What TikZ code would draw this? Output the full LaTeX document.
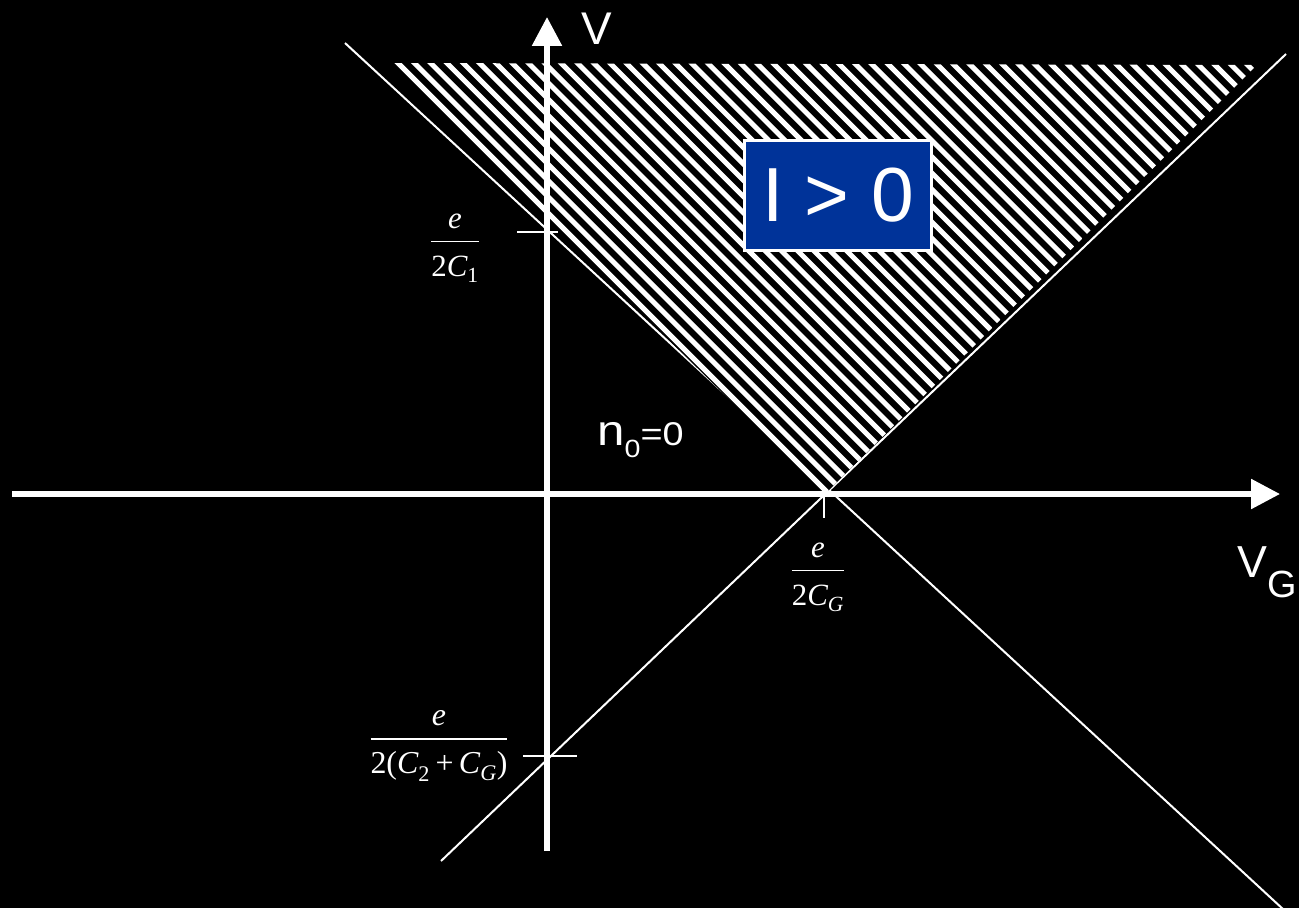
\documentclass[tikz,border=0pt]{standalone}
\usepackage{amsmath}
\usepackage{fontspec}
\setmainfont{Liberation Serif}
\setsansfont{Liberation Sans}
\usetikzlibrary{arrows.meta}
\definecolor{boxblue}{RGB}{0,51,153}
\newcommand{\efrac}[1]{\genfrac{}{}{1.5bp}{0}{\text{\itshape e}\rule[-7.75bp]{0pt}{0pt}}{\rule{0pt}{29.75bp}#1}}
\tikzset{
  axis/.style={white,line width=5.5,-{Triangle[width=29,length=29]}},
  thinline/.style={white,line width=2},
  tickmark/.style={white,line width=2},
  hatchline/.style={white,line width=5},
  lbl/.style={white,inner sep=0pt,font=\sffamily},
  mlbl/.style={white,inner sep=0pt,anchor=base,font=\fontsize{31}{31}\selectfont},
}

\begin{document}
\begin{tikzpicture}[x=1bp,y=-1bp]
\fill[black] (0,0) rectangle (1299,908);
\useasboundingbox (0,0) rectangle (1299,908);
\coordinate (dl) at (345,43);
\coordinate (dr) at (1284,910);
\coordinate (al) at (441,861);
\coordinate (ar) at (1286,54);
\draw[thinline] (dl) -- (dr);
\draw[thinline] (al) -- (ar);
\begin{scope}
\clip (388,63) -- (1257,65) -- (825,494) -- cycle;
\fill[black] (388,63) -- (1257,65) -- (825,494) -- cycle;
\foreach \c in {335,351.3,...,1210}
  \draw[hatchline] (\c-40,-40) -- (\c+560,560);
\end{scope}
\coordinate (vg0) at (12,494);
\coordinate (vg1) at (1280,494);
\coordinate (v0) at (547,851);
\coordinate (v1) at (547,17);
\draw[axis] (vg0) -- (vg1);
\draw[axis] (v0) -- (v1);
\draw[tickmark] (517,232) -- (558,232);
\draw[tickmark] (824,494) -- (824,518);
\draw[tickmark] (523,756) -- (577,756);
\node[lbl,anchor=base,font=\sffamily\fontsize{46}{46}\selectfont] (vlbl) at (597,44) {V};
\node[lbl,anchor=base west] (vglbl) at (1237,577)
  {\fontsize{45}{45}\selectfont V\raisebox{-20bp}{\fontsize{38}{38}\selectfont G}};
\node[lbl,anchor=base west] (nlbl) at (597,445)
  {\scalebox{1.15}[1]{\fontsize{43}{43}\selectfont n\raisebox{-12bp}{\fontsize{25}{25}\selectfont 0}\fontsize{33}{33}\selectfont =0}};
\node[draw=white,line width=3,fill=boxblue,minimum width=187,minimum height=110,inner sep=0pt,
  text=white,font=\sffamily\fontsize{77}{77}\selectfont] (ibox) at (838,195.5) {I > 0};
\node[mlbl] (c1lbl) at (455,247.75)
  {$\efrac{\text{2\itshape C}_{\text{1}}}$};
\node[mlbl] (cglbl) at (818,576.75)
  {$\efrac{\text{2\itshape C}_{\text{\itshape G}}}$};
\node[mlbl,font=\fontsize{32}{32}\selectfont] (c2lbl) at (439,745)
  {$\efrac{\text{2(\itshape C}_{\text{2}}\mathbin{\text{+}}\text{\itshape C}_{\text{\itshape G}}\text{)}}$};
\end{tikzpicture}
\end{document}
